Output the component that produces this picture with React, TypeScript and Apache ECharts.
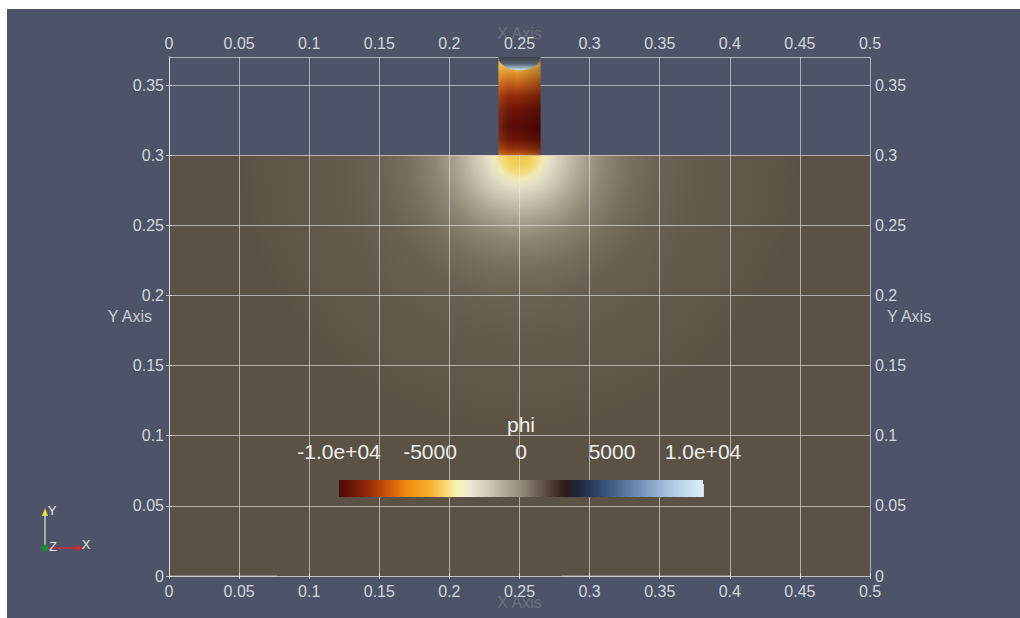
import { useEffect, useRef } from "react";
import * as echarts from "echarts";

const FONT = "'Liberation Sans', Arial, sans-serif";

// main axes
const xRange = [0, 0.5];
const yRange = [0, 0.37];
const tickStep = 0.05;

// geometry of the model (data units)
const domainX = [0, 0.5];
const domainY = [0, 0.3];
const electrodeX = [0.235, 0.265];
const electrodeY = [0.3, 0.37];
const capSize = [0.015, 0.0095];

// phi field below the electrode: colour bands vs distance from the electrode tip
const glowCenter = [0.25, 0.3];
const glowRadius = [0, 0.008, 0.013, 0.017, 0.022, 0.03, 0.045, 0.06, 0.08, 0.1, 0.13, 0.17, 0.19, 0.2];
const glowColors = [
  "#f0c848", "#f2d05a", "#f4dc80", "#f2e8b4", "#e6e0c8", "#d0cab6", "#aca490",
  "#8e8674", "#776e5d", "#6b6253", "#645b4c", "#605748", "#5d5446", "#5b5245",
];

// phi field inside the electrode: colour bands vs height
const electrodeBandY = [0.37, 0.364, 0.357, 0.35, 0.342, 0.332, 0.32, 0.312, 0.306, 0.302, 0.3];
const electrodeBandColors = [
  "#c87a30", "#f0c050", "#e08a28", "#c05a18", "#962a0c", "#6e1208",
  "#5a0a06", "#6a1208", "#8c2a0c", "#b04a14", "#d07020",
];
const capBandOffset = [0, 0.5, 0.75, 0.92, 1];
const capBandColors = ["#30363f", "#3a414d", "#56626f", "#9fbccf", "#c8dce8"];

// colour bar
const phiRange = [-10000, 10000];
const phiStep = 5000;
const phiTicks = [-10000, -5000, 0, 5000, 10000];
const phiLabels = ["-1.0e+04", "-5000", "0", "5000", "1.0e+04"];
const phiStopValues = [
  -10000, -8320, -7200, -6300, -5000, -4000, -3400, -2800, -1600,
  0, 1400, 2400, 3000, 4200, 6400, 8400, 10000,
];
const phiStopColors = [
  "#4a0808", "#9a2a08", "#d05a0a", "#f08a10", "#f5b030", "#f8e080", "#fbf5c0",
  "#ece9d6", "#c8c2b2", "#938a7c", "#5a4a40", "#2e1c18", "#1e2234", "#2c4468",
  "#6c8cb4", "#b0cce4", "#dcf0fa",
];

// visible pieces of the lower frame line
const bottomEdgeSegments = [
  [0, 0.077],
  [0.28, 0.4],
];

const LABEL = "#d4d6de";
const GRIDLINE = "rgba(235,235,235,0.6)";
const FRAME = "rgba(225,225,228,0.78)";

export default function App() {
  const ref = useRef<HTMLDivElement>(null);

  useEffect(() => {
    if (!ref.current) return;
    const chart = echarts.init(ref.current, undefined, { renderer: "svg" });

    const axisLabel = { color: LABEL, fontSize: 16, fontFamily: FONT };

    const option: any = {
      animation: false,
      backgroundColor: "#4e5369",
      textStyle: { fontFamily: FONT },
      grid: [
        { left: 162, top: 48, width: 701, height: 519 },
        { left: 332, top: 471, width: 364, height: 17 },
      ],
      xAxis: [
        {
          gridIndex: 0,
          type: "value",
          position: "bottom",
          min: xRange[0],
          max: xRange[1],
          interval: tickStep,
          axisLine: { show: false },
          axisTick: { show: true, length: 3, lineStyle: { color: FRAME } },
          axisLabel: { ...axisLabel, margin: 7 },
          splitLine: { show: true, lineStyle: { color: GRIDLINE, width: 1 } },
          name: "X Axis",
          nameLocation: "middle",
          nameGap: 18,
          nameMoveOverlap: false,
          nameTextStyle: { color: "#6c6f7e", fontSize: 16, fontFamily: FONT },
        },
        {
          gridIndex: 0,
          type: "value",
          position: "top",
          min: xRange[0],
          max: xRange[1],
          interval: tickStep,
          axisLine: { show: true, lineStyle: { color: FRAME, width: 1 } },
          axisTick: { show: true, length: 3, lineStyle: { color: FRAME } },
          axisLabel: { ...axisLabel, margin: 6 },
          splitLine: { show: false },
          name: "X Axis",
          nameLocation: "middle",
          nameGap: 16,
          nameMoveOverlap: false,
          nameTextStyle: { color: "#6c6f7e", fontSize: 16, fontFamily: FONT },
          z: 1,
        },
        {
          gridIndex: 1,
          type: "value",
          position: "top",
          min: phiRange[0],
          max: phiRange[1],
          interval: phiStep,
          axisLine: { show: false },
          axisTick: { show: true, length: 13, lineStyle: { color: "#d8d8d8", width: 1 } },
          axisLabel: {
            color: "#eeeeee",
            fontSize: 21,
            fontFamily: FONT,
            margin: 18,
            formatter: (v: number) => {
              const i = phiTicks.indexOf(v);
              return i >= 0 ? phiLabels[i] : "";
            },
          },
          splitLine: { show: false },
          name: "phi",
          nameLocation: "middle",
          nameGap: 45,
          nameMoveOverlap: false,
          nameTextStyle: { color: "#eeeeee", fontSize: 21, fontFamily: FONT },
        },
      ],
      yAxis: [
        {
          gridIndex: 0,
          type: "value",
          position: "left",
          min: yRange[0],
          max: yRange[1],
          interval: tickStep,
          axisLine: { show: true, lineStyle: { color: FRAME, width: 1 } },
          axisTick: { show: true, length: 3, lineStyle: { color: FRAME } },
          axisLabel: { ...axisLabel, margin: 5, showMaxLabel: false },
          splitLine: { show: true, showMinLine: false, lineStyle: { color: GRIDLINE, width: 1 } },
          name: "Y Axis",
          nameLocation: "middle",
          nameRotate: 0,
          nameGap: 17,
          nameMoveOverlap: false,
          nameTextStyle: { color: "#c9cbd4", fontSize: 16, fontFamily: FONT },
        },
        {
          gridIndex: 0,
          type: "value",
          position: "right",
          min: yRange[0],
          max: yRange[1],
          interval: tickStep,
          axisLine: { show: true, lineStyle: { color: FRAME, width: 1 } },
          axisTick: { show: true, length: 3, lineStyle: { color: FRAME } },
          axisLabel: { ...axisLabel, margin: 5, showMaxLabel: false },
          splitLine: { show: false },
          name: "Y Axis",
          nameLocation: "middle",
          nameRotate: 0,
          nameGap: 17,
          nameMoveOverlap: false,
          nameTextStyle: { color: "#c9cbd4", fontSize: 16, fontFamily: FONT },
        },
        {
          gridIndex: 1,
          type: "value",
          min: 0,
          max: 1,
          show: false,
        },
      ],
      series: [
        {
          type: "custom",
          name: "domain",
          xAxisIndex: 0,
          yAxisIndex: 0,
          z: -1,
          silent: true,
          encode: { x: [0, 2], y: [1, 3] },
          data: [[domainX[0], domainY[0], domainX[1], domainY[1]]],
          renderItem: (_p: any, api: any) => {
            const tl = api.coord([api.value(0), api.value(3)]);
            const br = api.coord([api.value(2), api.value(1)]);
            const c = api.coord(glowCenter);
            const rMax = glowRadius[glowRadius.length - 1];
            const rPx = api.size([rMax, 0])[0];
            const stops = glowRadius.map((r, i) => ({ offset: r / rMax, color: glowColors[i] }));
            return {
              type: "rect",
              shape: { x: tl[0], y: tl[1], width: br[0] - tl[0], height: br[1] - tl[1] },
              style: { fill: new echarts.graphic.RadialGradient(c[0], c[1], rPx, stops, true) },
            };
          },
        },
        {
          type: "custom",
          name: "frame",
          xAxisIndex: 0,
          yAxisIndex: 0,
          z: 1,
          silent: true,
          encode: { x: [0, 1] },
          data: bottomEdgeSegments,
          renderItem: (_p: any, api: any) => {
            const a = api.coord([api.value(0), yRange[0]]);
            const b = api.coord([api.value(1), yRange[0]]);
            return {
              type: "line",
              shape: { x1: a[0], y1: a[1], x2: b[0], y2: b[1] },
              style: { stroke: "rgba(225,225,228,0.6)", lineWidth: 1 },
            };
          },
        },
        {
          type: "custom",
          name: "electrode",
          xAxisIndex: 0,
          yAxisIndex: 0,
          z: 5,
          clip: true,
          silent: true,
          encode: { x: [0, 2], y: [1, 3] },
          data: [[electrodeX[0], electrodeY[0], electrodeX[1], electrodeY[1]]],
          renderItem: (_p: any, api: any) => {
            const tl = api.coord([api.value(0), api.value(3)]);
            const br = api.coord([api.value(2), api.value(1)]);
            const span = electrodeY[1] - electrodeY[0];
            const bodyStops = electrodeBandY.map((y, i) => ({
              offset: (electrodeY[1] - y) / span,
              color: electrodeBandColors[i],
            }));
            const capC = api.coord([(api.value(0) + api.value(2)) / 2, api.value(3)]);
            const rx = api.size([capSize[0], 0])[0];
            const ry = api.size([0, capSize[1]])[1];
            const capStops = capBandOffset.map((o, i) => ({ offset: o, color: capBandColors[i] }));
            const rect = { x: tl[0], y: tl[1], width: br[0] - tl[0], height: br[1] - tl[1] };
            return {
              type: "group",
              children: [
                {
                  type: "rect",
                  shape: rect,
                  style: { fill: new echarts.graphic.LinearGradient(0, 0, 0, 1, bodyStops) },
                },
                {
                  type: "rect",
                  shape: rect,
                  style: {
                    fill: new echarts.graphic.LinearGradient(0, 0, 1, 0, [
                      { offset: 0, color: "rgba(255,190,80,0.18)" },
                      { offset: 0.45, color: "rgba(0,0,0,0)" },
                      { offset: 1, color: "rgba(0,0,0,0.25)" },
                    ]),
                  },
                },
                {
                  type: "ellipse",
                  shape: { cx: capC[0], cy: capC[1], rx: rx, ry: ry },
                  style: { fill: new echarts.graphic.LinearGradient(0, 0, 0, 1, capStops) },
                },
              ],
            };
          },
        },
        {
          type: "custom",
          name: "colorbar",
          xAxisIndex: 2,
          yAxisIndex: 2,
          z: 5,
          silent: true,
          encode: { x: [0, 2], y: [1, 3] },
          data: [[phiRange[0], 1, phiRange[1], 0]],
          renderItem: (_p: any, api: any) => {
            const a = api.coord([api.value(0), api.value(1)]);
            const b = api.coord([api.value(2), api.value(3)]);
            const span = phiRange[1] - phiRange[0];
            const stops = phiStopValues.map((v, i) => ({
              offset: (v - phiRange[0]) / span,
              color: phiStopColors[i],
            }));
            return {
              type: "rect",
              shape: { x: a[0], y: a[1], width: b[0] - a[0], height: b[1] - a[1] },
              style: { fill: new echarts.graphic.LinearGradient(0, 0, 1, 0, stops) },
            };
          },
        },
      ],
      graphic: [
        { type: "line", shape: { x1: 38, y1: 539, x2: 38, y2: 505 }, style: { stroke: "#c4c5c9", lineWidth: 1.5 } },
        { type: "polygon", shape: { points: [[35, 507], [41, 507], [38, 499]] }, style: { fill: "#e6dc3c" } },
        { type: "line", shape: { x1: 38, y1: 539, x2: 72, y2: 539 }, style: { stroke: "#d02828", lineWidth: 1.5 } },
        { type: "polygon", shape: { points: [[70, 536], [70, 542], [77, 539]] }, style: { fill: "#d02828" } },
        { type: "circle", shape: { cx: 38, cy: 539, r: 3.5 }, style: { fill: "#1e8a32" } },
        { type: "text", x: 45, y: 501, style: { text: "Y", fill: "#e4e4e4", fontSize: 13, fontFamily: FONT, align: "center", verticalAlign: "middle" } },
        { type: "text", x: 46, y: 537, style: { text: "Z", fill: "#e4e4e4", fontSize: 13, fontFamily: FONT, align: "center", verticalAlign: "middle" } },
        { type: "text", x: 79, y: 535, style: { text: "X", fill: "#e4e4e4", fontSize: 13, fontFamily: FONT, align: "center", verticalAlign: "middle" } },
      ],
    };

    chart.setOption(option);
    return () => chart.dispose();
  }, []);

  return (
    <div style={{ position: "absolute", left: 0, top: 0, width: 1020, height: 618, background: "#ffffff", overflow: "hidden" }}>
      <div ref={ref} style={{ position: "absolute", left: 7, top: 9, width: 1013, height: 609 }} />
    </div>
  );
}
